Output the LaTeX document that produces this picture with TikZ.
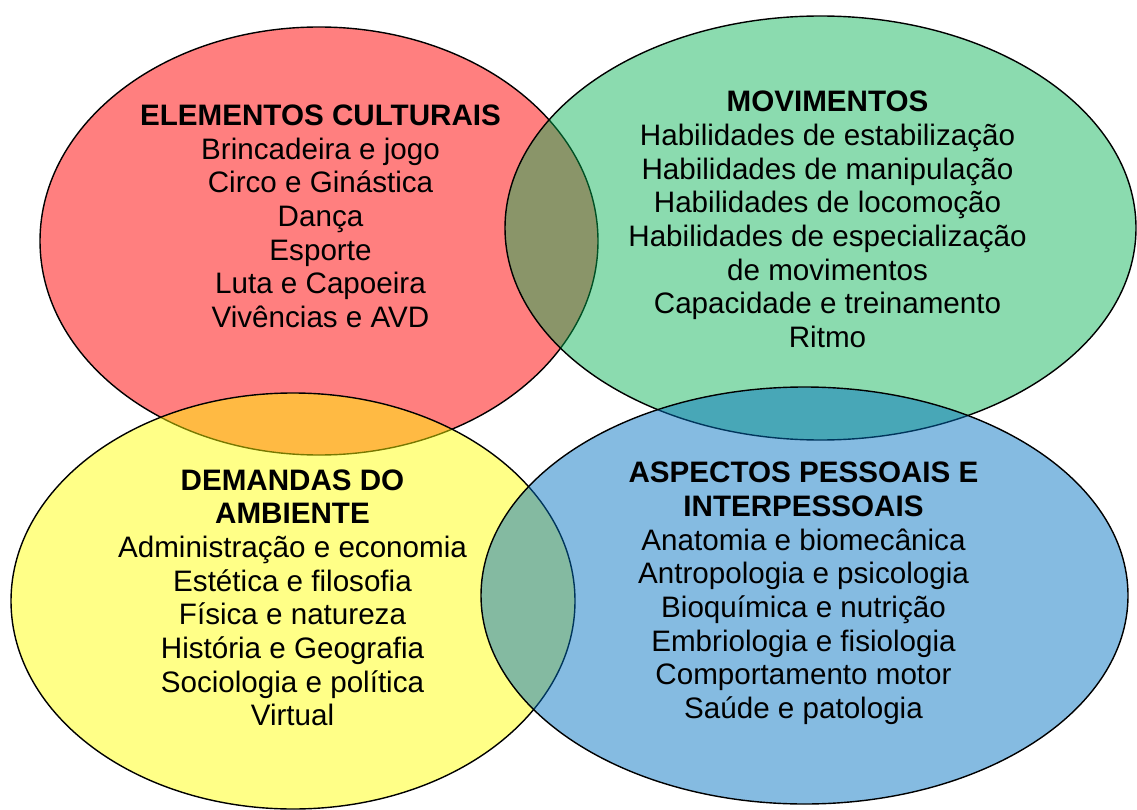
\documentclass[tikz,border=0pt]{standalone}
\usepackage{fontspec}
\setmainfont{Liberation Sans}
\definecolor{cred}{RGB}{255,0,0}
\definecolor{cgreen}{RGB}{0,176,80}
\definecolor{cyellow}{RGB}{255,255,0}
\definecolor{cblue}{RGB}{0,112,192}
\tikzset{
  venn/.style={draw=black, line width=1.4pt, draw opacity=1},
  txt/.style={anchor=base, inner sep=0pt, font=\fontsize{29.6}{33.7}\selectfont},
  ttl/.style={txt, font=\fontsize{29.6}{33.7}\selectfont\bfseries},
}
\begin{document}
\begin{tikzpicture}[x=1pt,y=-1pt]
\useasboundingbox (0,0) rectangle (1137,810);
% ellipses (pixel coordinates, y downward)
\path[venn, fill=cred, fill opacity=0.5] (319,241) ellipse [x radius=279, y radius=214];
\path[venn, fill=cgreen, fill opacity=0.455] (820.5,228) ellipse [x radius=315.5, y radius=212];
\path[venn, fill=cyellow, fill opacity=0.47] (293,601) ellipse [x radius=282, y radius=208];
\path[venn, fill=cblue, fill opacity=0.48] (804.5,595.5) ellipse [x radius=323.5, y radius=208.5];
% red block
\node[ttl] (rt) at (320.5,125.5) {ELEMENTOS CULTURAIS};
\foreach \t [count=\i] in {Brincadeira e jogo, Circo e Ginástica, Dança, Esporte, Luta e Capoeira, Vivências e AVD}
  \node[txt] (r\i) at (320.5,125.5+33.7*\i) {\t};
% green block
\node[ttl] (gt) at (827.5,111.7) {MOVIMENTOS};
\foreach \t [count=\i] in {Habilidades de estabilização, Habilidades de manipulação, Habilidades de locomoção, Habilidades de especialização, de movimentos, Capacidade e treinamento, Ritmo}
  \node[txt] (g\i) at (827.5,111.7+33.7*\i) {\t};
% yellow block
\node[ttl] (yt1) at (292.5,490) {DEMANDAS DO};
\node[ttl] (yt2) at (292.5,523.7) {AMBIENTE};
\foreach \t [count=\i] in {Administração e economia, Estética e filosofia, Física e natureza, História e Geografia, Sociologia e política, Virtual}
  \node[txt] (y\i) at (292.5,523.7+33.7*\i) {\t};
% blue block
\node[ttl] (bt1) at (803.5,482.7) {ASPECTOS PESSOAIS E};
\node[ttl] (bt2) at (803.5,516.4) {INTERPESSOAIS};
\foreach \t [count=\i] in {Anatomia e biomecânica, Antropologia e psicologia, Bioquímica e nutrição, Embriologia e fisiologia, Comportamento motor, Saúde e patologia}
  \node[txt] (b\i) at (803.5,516.4+33.7*\i) {\t};
\end{tikzpicture}
\end{document}
